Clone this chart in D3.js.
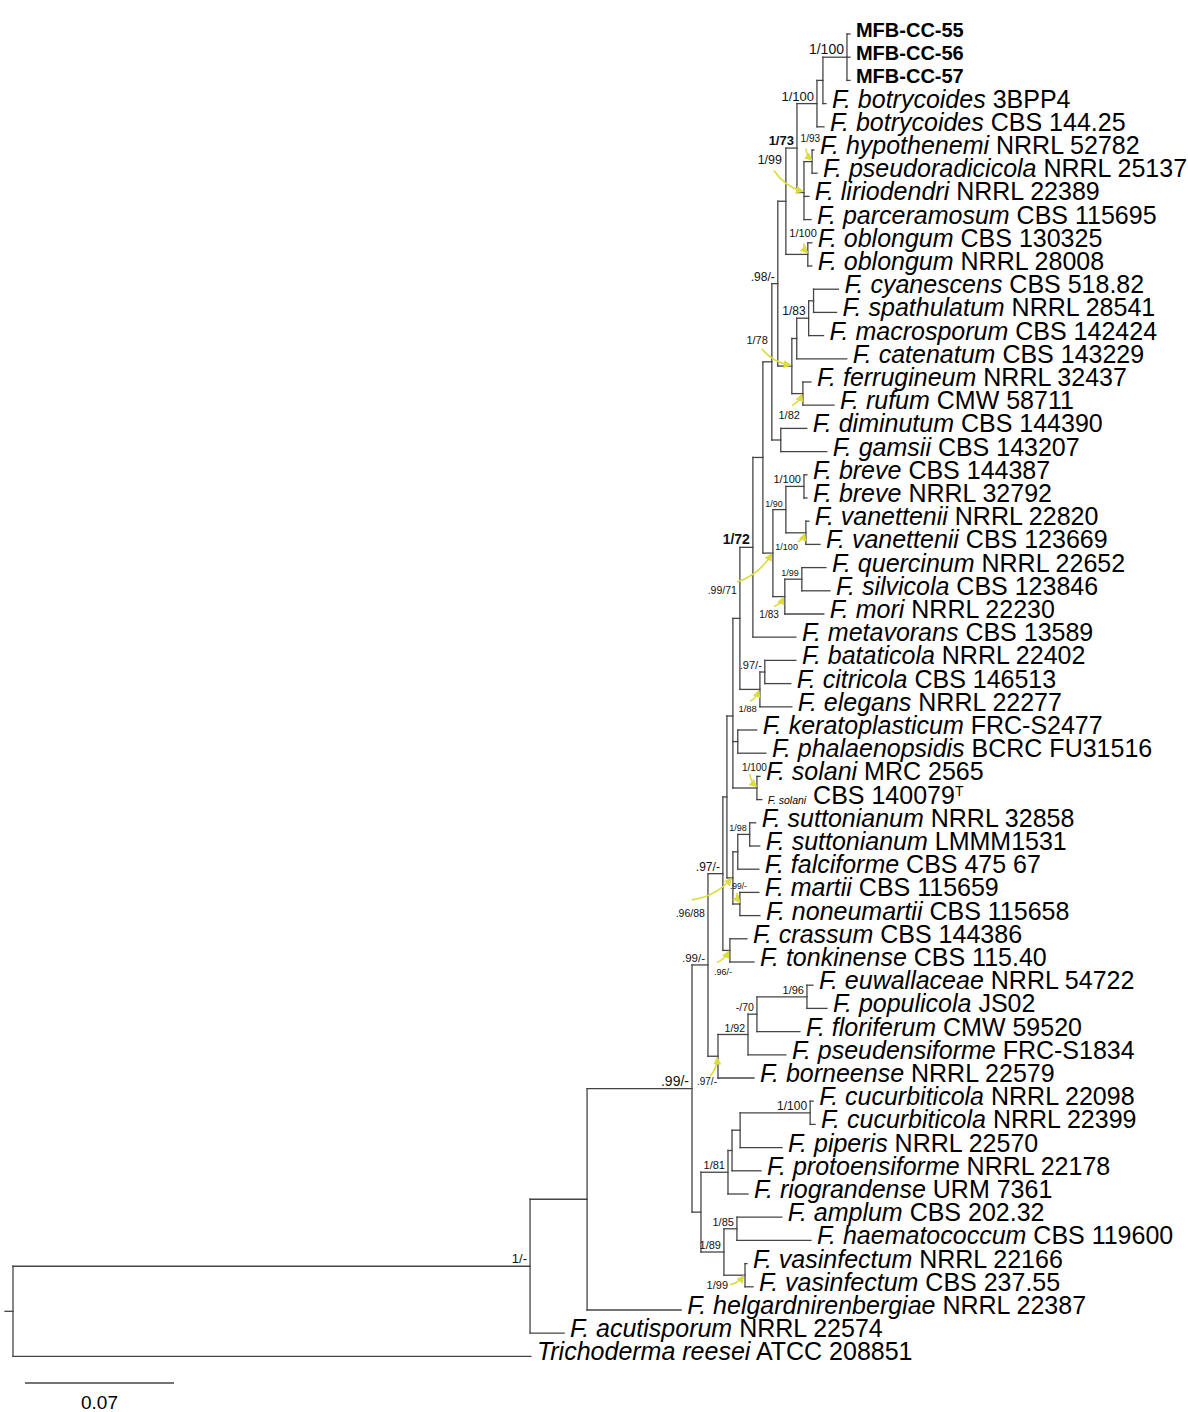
<!DOCTYPE html>
<html>
<head>
<meta charset="utf-8">
<script src="https://cdn.jsdelivr.net/npm/d3@7"></script>
<style>
  body { margin: 0; background: #fff; }
  svg { display: block; font-family: "Liberation Sans", Arial, sans-serif; }
</style>
</head>
<body>
<svg id="tree" width="1188" height="1412"></svg>
<script>
// Terminal taxa, top to bottom: [species (italic), strain / culture collection number]
const taxa = [
  ["", "MFB-CC-55"], ["", "MFB-CC-56"], ["", "MFB-CC-57"],
  ["F. botrycoides", "3BPP4"], ["F. botrycoides", "CBS 144.25"],
  ["F. hypothenemi", "NRRL 52782"], ["F. pseudoradicicola", "NRRL 25137"],
  ["F. liriodendri", "NRRL 22389"], ["F. parceramosum", "CBS 115695"],
  ["F. oblongum", "CBS 130325"], ["F. oblongum", "NRRL 28008"],
  ["F. cyanescens", "CBS 518.82"], ["F. spathulatum", "NRRL 28541"],
  ["F. macrosporum", "CBS 142424"], ["F. catenatum", "CBS 143229"],
  ["F. ferrugineum", "NRRL 32437"], ["F. rufum", "CMW 58711"],
  ["F. diminutum", "CBS 144390"], ["F. gamsii", "CBS 143207"],
  ["F. breve", "CBS 144387"], ["F. breve", "NRRL 32792"],
  ["F. vanettenii", "NRRL 22820"], ["F. vanettenii", "CBS 123669"],
  ["F. quercinum", "NRRL 22652"], ["F. silvicola", "CBS 123846"],
  ["F. mori", "NRRL 22230"], ["F. metavorans", "CBS 13589"],
  ["F. bataticola", "NRRL 22402"], ["F. citricola", "CBS 146513"],
  ["F. elegans", "NRRL 22277"], ["F. keratoplasticum", "FRC-S2477"],
  ["F. phalaenopsidis", "BCRC FU31516"], ["F. solani", "MRC 2565"],
  ["F. solani", "CBS 140079"], ["F. suttonianum", "NRRL 32858"],
  ["F. suttonianum", "LMMM1531"], ["F. falciforme", "CBS 475 67"],
  ["F. martii", "CBS 115659"], ["F. noneumartii", "CBS 115658"],
  ["F. crassum", "CBS 144386"], ["F. tonkinense", "CBS 115.40"],
  ["F. euwallaceae", "NRRL 54722"], ["F. populicola", "JS02"],
  ["F. floriferum", "CMW 59520"], ["F. pseudensiforme", "FRC-S1834"],
  ["F. borneense", "NRRL 22579"], ["F. cucurbiticola", "NRRL 22098"],
  ["F. cucurbiticola", "NRRL 22399"], ["F. piperis", "NRRL 22570"],
  ["F. protoensiforme", "NRRL 22178"], ["F. riograndense", "URM 7361"],
  ["F. amplum", "CBS 202.32"], ["F. haematococcum", "CBS 119600"],
  ["F. vasinfectum", "NRRL 22166"], ["F. vasinfectum", "CBS 237.55"],
  ["F. helgardnirenbergiae", "NRRL 22387"], ["F. acutisporum", "NRRL 22574"],
  ["Trichoderma reesei", "ATCC 208851"]
];

// Isolates obtained in this study (shown in bold)
const newIsolates = [0, 1, 2];
// Ex-type strain marked with a superscript T (species name set in small type)
const exTypeStrains = [33];

// Tree topology with branch lengths (substitutions/site); leaf names are indices into taxa,
// internal labels are Bayesian posterior probability / ML bootstrap support.
const newick = `
(
 (
  (
   (
    (
     (
      (
       (
        (
         (
          (
           (
            (
             (
              (
               (((0:0.0014,1:0.0014,2:0.0014)1/100:0.0113,3:0.0014):0.0028,
               4:0.0033
               )1/100:0.0094,
               ((5:0.0009,6:0.0023)1/93:0.0038,7:0.0023,8:0.0033)1/99:0.0033
              )1/73:0.0052,
              (9:0.0019,10:0.0019)1/100:0.0103
             ):0.0038,
             (
              (((11:0.0117,12:0.0108):0.0023,13:0.0070)1/83:0.0056,14:0.0235):0.0023,
              (15:0.0038,16:0.0146)1/82:0.0052
             )1/78:0.0066
            ).98/-:0.0028,
            (17:0.0122,18:0.0216):0.0042
           ):0.0042,
           (
            ((19:0.0014,20:0.0014)1/100:0.0085,(21:0.0014,22:0.0066)1/100:0.0094)1/90:0.0061,
            ((23:0.0113,24:0.0132)1/99:0.0080,25:0.0183)1/83:0.0056
           ).99/71:0.0047
          ):0.0047,
          26:0.0202
         )1/72:0.0061,
         ((27:0.0146,28:0.0122).97/-:0.0023,29:0.0150)1/88:0.0094
        ):0.0033,
        (30:0.0089,31:0.0132):0.0023,
        (32:0.0014,33:0.0023)1/100:0.0113
       ):0.0028,
       (
        ((34:0.0028,35:0.0047)1/98:0.0056,36:0.0099):0.0023,
        (37:0.0089,38:0.0094).99/-:0.0033
       ).96/88:0.0028
      ):0.0019,
      (39:0.0080,40:0.0113).96/-:0.0033
     ).97/-:0.0070,
     (
      (
       ((41:0.0028,42:0.0094)1/96:0.0235,43:0.0202)-/70:0.0042,
       44:0.0178
      )1/92:0.0141,
      45:0.0169
     ).97/-:0.0047
    ).99/-:0.0075,
    (
     (
      (
       (
        (46:0.0014,47:0.0023)1/100:0.0329,
        48:0.0197
       ):0.0038,
       49:0.0136
      ):0.0019,
      50:0.0094
     )1/81:0.0127,
     (
      (51:0.0211,52:0.0348)1/85:0.0061,
      (53:0.0009,54:0.0038)1/99:0.0099
     )1/89:0.0108
    ):0.0042
   ).99/-:0.0493,
   55:0.0442
  ):0.0268,
  56:0.0160
 )1/-:0.2429,
 57:0.2433
);`;

// Scale bar length (substitutions/site)
const scaleBarValue = 0.07;

// Typography / placement of support labels, keyed by the clade's first-last leaf index.
// text: [dx, dy] of the label's right end / baseline from the node;
// from: start of the pointer arrow relative to the node.
const supportLayout = {
  "0-2":   { size: 14 },
  "0-4":   { size: 13 },
  "0-8":   { size: 13, bold: true },
  "5-6":   { size: 10,   text: [8, -19.6],  from: [-6, -13] },
  "5-8":   { size: 12.5, text: [-22, -28.5], from: [-30, -22] },
  "9-10":  { size: 11,   text: [9, -17.4],  from: [-4, -11] },
  "0-16":  { size: 12 },
  "11-13": { size: 12 },
  "11-16": { size: 11,   text: [-24, -22],  from: [-30, -17] },
  "15-16": { size: 11,   text: [-3, 25.4],  from: [-11, 12] },
  "19-20": { size: 11 },
  "21-22": { size: 9,    text: [-8, 17],    from: [-8, 9] },
  "19-22": { size: 9 },
  "23-24": { size: 9 },
  "23-25": { size: 10,   text: [-6, 21],    from: [-11, 10] },
  "19-25": { size: 10.5, text: [-36, 41],   from: [-36, 29] },
  "0-26":  { size: 14, bold: true },
  "27-28": { size: 11 },
  "27-29": { size: 9.5,  text: [-3, 22.6],  from: [-10, 12] },
  "32-33": { size: 10,   text: [10, -17],   from: [-7, -14] },
  "34-35": { size: 9 },
  "37-38": { size: 8.5,  text: [7, -15],    from: [-3, -11] },
  "34-38": { size: 10.5, text: [-28, 39],   from: [-41, 22] },
  "39-40": { size: 9,    text: [2, 24.6],   from: [-13, 12] },
  "0-40":  { size: 12 },
  "41-42": { size: 11 },
  "41-43": { size: 10.5 },
  "41-44": { size: 10.5 },
  "41-45": { size: 10,   text: [-1, 28.6],  from: [-8, 20] },
  "0-45":  { size: 11.5 },
  "46-47": { size: 12 },
  "46-50": { size: 11 },
  "51-52": { size: 11 },
  "53-54": { size: 11,   text: [-17, 13.8], from: [-15, 9.5] },
  "51-54": { size: 11 },
  "0-54":  { size: 14 },
  "0-56":  { size: 13 }
};

function parseNewick(src) {
  const s = src.replace(/\s+/g, "");
  let i = 0;
  function readNode() {
    const node = {};
    if (s[i] === "(") {
      i++;
      node.children = [readNode()];
      while (s[i] === ",") { i++; node.children.push(readNode()); }
      i++; // closing parenthesis
    }
    let name = "";
    while (i < s.length && !":,();".includes(s[i])) name += s[i++];
    node.name = name;
    node.length = 0;
    if (s[i] === ":") {
      i++;
      let num = "";
      while (i < s.length && !",();".includes(s[i])) num += s[i++];
      node.length = +num;
    }
    return node;
  }
  return readNode();
}

const svg = d3.select("#tree");
const ink = "#454545";
const pointer = "#dcdc3c";

const x = d3.scaleLinear().domain([0, scaleBarValue]).range([13, 13 + 149]);
const y = d3.scaleLinear().domain([0, taxa.length - 1]).range([34, 1356.4]);

const root = d3.hierarchy(parseNewick(newick));
root.eachBefore(d => { d.dist = d.parent ? d.parent.dist + d.data.length : 0; d.px = x(d.dist); });
root.eachAfter(d => {
  if (d.children) {
    d.py = d3.mean(d.children, c => c.py);
    d.first = d.children[0].first;
    d.last = d.children[d.children.length - 1].last;
  } else {
    d.idx = +d.data.name;
    d.py = y(d.idx);
    d.first = d.last = d.idx;
  }
});

const defs = svg.append("defs");
defs.append("marker")
  .attr("id", "arrowhead")
  .attr("viewBox", "0 0 10 10")
  .attr("refX", 8).attr("refY", 5)
  .attr("markerWidth", 5).attr("markerHeight", 5)
  .attr("orient", "auto")
  .append("path").attr("d", "M0,0L10,5L0,10Z").attr("fill", pointer);

// Branches
const branches = svg.append("g")
  .attr("fill", "none").attr("stroke", ink).attr("stroke-width", 1.3)
  .attr("stroke-linecap", "square");

branches.selectAll("path.h")
  .data(root.descendants().filter(d => d.parent))
  .join("path").attr("class", "h")
  .attr("d", d => `M${d.parent.px},${d.py}H${d.px}`);

branches.selectAll("path.v")
  .data(root.descendants().filter(d => d.children))
  .join("path").attr("class", "v")
  .attr("d", d => `M${d.px},${d3.min(d.children, c => c.py)}V${d3.max(d.children, c => c.py)}`);

// Root stub
branches.append("path").attr("d", `M${root.px - 8},${root.py}H${root.px}`);

// Support values
const supports = root.descendants().filter(d => d.children && d.data.name);
const pointers = svg.append("g").attr("fill", "none").attr("stroke", pointer).attr("stroke-width", 1.6);
const supportText = svg.append("g").attr("fill", "#111").attr("text-anchor", "end");

supports.forEach(d => {
  const lay = supportLayout[`${d.first}-${d.last}`] || {};
  const size = lay.size || 11;
  const tx = lay.text ? d.px + lay.text[0] : d.px - 3;
  const ty = lay.text ? d.py + lay.text[1] : d.py - 3;
  supportText.append("text")
    .attr("x", tx).attr("y", ty)
    .attr("font-size", size)
    .attr("font-weight", lay.bold ? "bold" : null)
    .text(d.data.name);
  if (lay.from) {
    const sx = d.px + lay.from[0], sy = d.py + lay.from[1];
    const vx = d.px - sx, vy = d.py - sy;
    const len = Math.hypot(vx, vy);
    const ex = d.px - vx / len * 2, ey = d.py - vy / len * 2;
    const cx = (sx + ex) / 2 - vy / len * len * 0.18;
    const cy = (sy + ey) / 2 + vx / len * len * 0.18;
    pointers.append("path")
      .attr("d", `M${sx},${sy}Q${cx},${cy} ${ex},${ey}`)
      .attr("marker-end", "url(#arrowhead)");
  }
});

// Taxon labels
const labels = svg.append("g").attr("fill", "#000");
root.leaves().forEach(d => {
  const [species, strain] = taxa[d.idx];
  const t = labels.append("text").attr("x", d.px + 6).attr("y", d.py + 4);
  if (newIsolates.includes(d.idx)) {
    t.attr("font-size", 20).attr("font-weight", "bold").attr("y", d.py + 3).text(strain);
    return;
  }
  t.attr("font-size", 25);
  if (exTypeStrains.includes(d.idx)) {
    t.append("tspan").attr("font-style", "italic").attr("font-size", 10.5).text(species);
    t.append("tspan").text(" " + strain);
    t.append("tspan").attr("font-size", 14).attr("dy", -8).text("T");
  } else {
    t.append("tspan").attr("font-style", "italic").text(species);
    t.append("tspan").text(" " + strain);
  }
});

// Scale bar
const barY = 1383;
svg.append("path")
  .attr("d", `M${x(0) + 12},${barY}H${x(scaleBarValue) + 12}`)
  .attr("stroke", ink).attr("stroke-width", 1.5);
svg.append("text")
  .attr("x", (x(0) + x(scaleBarValue)) / 2 + 12).attr("y", 1409)
  .attr("text-anchor", "middle").attr("font-size", 19)
  .text(String(scaleBarValue));
</script>
</body>
</html>
